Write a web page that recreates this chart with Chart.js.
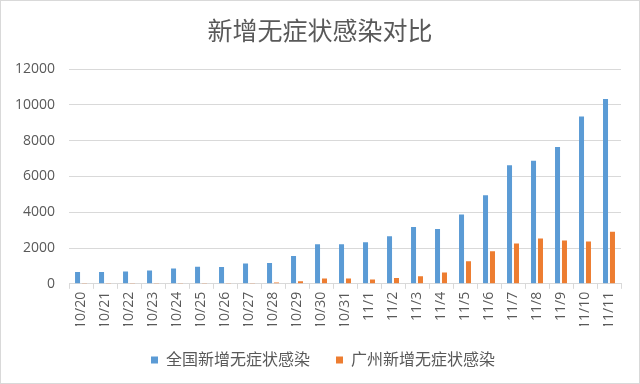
<!DOCTYPE html>
<html>
<head>
<meta charset="utf-8">
<script src="https://cdn.jsdelivr.net/npm/chart.js@4"></script>
<style>
  html, body { margin: 0; padding: 0; background: #fff; }
  #wrap { width: 638px; height: 382px; border: 1px solid #d9d9d9; }
</style>
</head>
<body>
<div id="wrap"><canvas id="c" width="638" height="382"></canvas></div>
<script>
  // --- DATA ---
  const labels = ['10/20','10/21','10/22','10/23','10/24','10/25','10/26','10/27','10/28','10/29','10/30','10/31',
    '11/1','11/2','11/3','11/4','11/5','11/6','11/7','11/8','11/9','11/10','11/11'];
  const national = [660, 660, 690, 750, 860, 960, 940, 1130, 1160, 1560, 2210, 2210,
    2330, 2660, 3170, 3060, 3880, 4950, 6620, 6870, 7650, 9340, 10330];
  const guangzhou = [20, 15, 20, 50, 20, 20, 20, 15, 80, 140, 300, 300,
    244, 320, 430, 640, 1260, 1820, 2250, 2530, 2420, 2360, 2910];
  const seriesNames = ['全国新增无症状感染', '广州新增无症状感染'];
  const yTicks = [0, 2000, 4000, 6000, 8000, 10000, 12000];

  const font = '"Open Sans", "Noto Sans CJK SC", sans-serif';
  const grey = '#595959';
  const line = '#d9d9d9';

  // title and legend sit centred on the whole picture, not on the padded area
  const recentre = {
    id: 'recentre',
    afterLayout(chart) {
      const move = (box, centre) => {
        const shift = centre - (box.left + box.right) / 2;
        box.left += shift; box.right += shift;
      };
      move(chart.titleBlock, chart.width / 2);
      move(chart.legend, chart.width / 2 + 3);
    }
  };

  new Chart(document.getElementById('c'), {
    type: 'bar',
    data: {
      labels,
      datasets: [
        { label: seriesNames[0], data: national, backgroundColor: '#5b9bd5' },
        { label: seriesNames[1], data: guangzhou, backgroundColor: '#ed7d31' }
      ]
    },
    plugins: [recentre],
    options: {
      responsive: false,
      animation: false,
      layout: { padding: { left: 0, right: 18, top: 5, bottom: 5 } },
      datasets: { bar: { categoryPercentage: 0.58, barPercentage: 0.72 } },
      plugins: {
        title: {
          display: true, text: '新增无症状感染对比', color: grey,
          font: { family: font, size: 25, weight: 'normal' },
          padding: { top: 12, bottom: 21 }
        },
        legend: {
          position: 'bottom',
          labels: {
            color: grey, boxWidth: 7, boxHeight: 7, padding: 26,
            font: { family: font, size: 16 }
          }
        },
        tooltip: { enabled: false }
      },
      scales: {
        x: {
          afterFit: (ax) => { ax.height -= 6; },
          grid: { display: true, offset: true, drawOnChartArea: false, color: line, tickLength: 5 },
          border: { color: line },
          ticks: { color: grey, minRotation: 90, maxRotation: 90, autoSkip: false, padding: 3,
            font: { family: font, size: 14 } }
        },
        y: {
          min: 0, max: 12000,
          afterBuildTicks: (ax) => { ax.ticks = yTicks.map(v => ({ value: v })); },
          grid: { color: line, drawTicks: false },
          border: { display: false },
          ticks: { color: grey, padding: 14, font: { family: font, size: 14 },
            callback: (v) => String(v) }
        }
      }
    }
  });
</script>
</body>
</html>
